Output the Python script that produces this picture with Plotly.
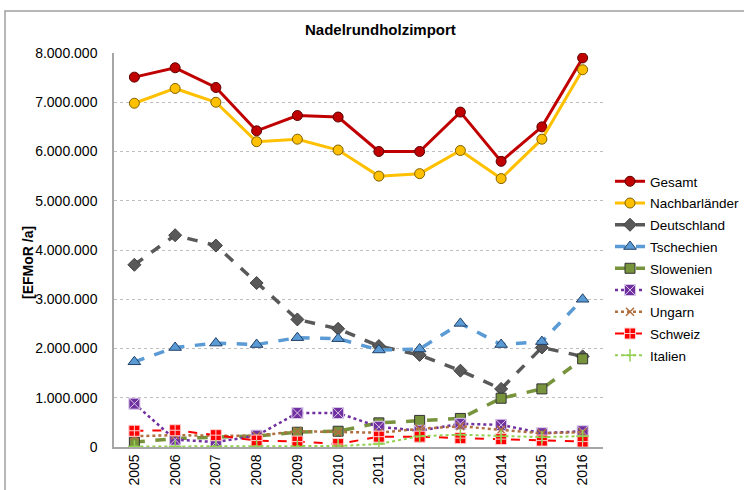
import plotly.graph_objects as go

years = ["2005", "2006", "2007", "2008", "2009", "2010", "2011", "2012", "2013", "2014", "2015", "2016"]

gesamt = [7510000, 7700000, 7300000, 6420000, 6730000, 6700000, 6000000, 6000000, 6800000, 5800000, 6500000, 7900000]
nachbar = [6980000, 7280000, 7000000, 6200000, 6250000, 6030000, 5500000, 5550000, 6020000, 5450000, 6250000, 7660000]
deutschland = [3700000, 4300000, 4090000, 3330000, 2590000, 2400000, 2050000, 1870000, 1550000, 1180000, 2020000, 1840000]
tschechien = [1730000, 2020000, 2110000, 2080000, 2220000, 2200000, 1970000, 1990000, 2510000, 2080000, 2140000, 3000000]
slowenien = [100000, 170000, 200000, 220000, 300000, 320000, 490000, 540000, 580000, 990000, 1180000, 1790000]
slowakei = [880000, 150000, 100000, 230000, 690000, 690000, 410000, 330000, 470000, 450000, 280000, 320000]
ungarn = [220000, 240000, 230000, 230000, 320000, 300000, 290000, 370000, 420000, 350000, 280000, 300000]
schweiz = [330000, 340000, 240000, 130000, 110000, 60000, 210000, 210000, 180000, 160000, 130000, 110000]
italien = [10000, 10000, 10000, 10000, 10000, 20000, 60000, 220000, 250000, 220000, 200000, 220000]

series = [
    ("Gesamt", gesamt, "#C00000", "solid", 3, "circle", "#C00000", "#5a0000", 10),
    ("Nachbarländer", nachbar, "#FFC000", "solid", 3, "circle", "#FFC000", "#7f6000", 10),
    ("Deutschland", deutschland, "#595959", "dash", 3.5, "diamond", "#595959", "#404040", 10),
    ("Tschechien", tschechien, "#5B9BD5", "dash", 3.5, "triangle-up", "#5B9BD5", "#1f3f66", 11),
    ("Slowenien", slowenien, "#77933C", "dash", 3.5, "square", "#77933C", "#333333", 10),
    ("Slowakei", slowakei, "#7030A0", "dot", 2.5, "square-x", "#7030A0", "#d9c8e8", 11),
    ("Ungarn", ungarn, "#B07040", "dot", 2.5, "x-thin", "#B07040", "#B07040", 8),
    ("Schweiz", schweiz, "#FF0000", "dash", 2, "square-cross", "#FF0000", "#ffd0d0", 11),
    ("Italien", italien, "#92D050", "dot", 2, "cross-thin", "#92D050", "#92D050", 9),
]

fig = go.Figure()
for name, vals, col, dash, w, sym, mfill, mline, msize in series:
    thin = sym.endswith("-thin")
    fig.add_trace(go.Scatter(
        x=years, y=vals, name=name, mode="lines+markers", legendgroup=name,
        line=dict(color=col, width=w, dash=dash),
        marker=dict(symbol=sym, size=msize, color=mfill,
                    line=dict(color=mline, width=1.5 if thin else 1)),
    ))

L, R, T, B = 114, 141, 53, 43
W, H = 744, 490
pw, ph = W - L - R, H - T - B

fig.update_layout(
    width=W, height=H,
    margin=dict(l=L, r=R, t=T, b=B, autoexpand=False),
    paper_bgcolor="white", plot_bgcolor="white",
    separators=",.",
    font=dict(family="Liberation Sans, Arial, sans-serif", size=14, color="#000000"),
    showlegend=True,
    legend=dict(x=(610 - L) / pw, y=(H - B - 166) / ph, xanchor="left", yanchor="top",
                font=dict(size=13.5), bgcolor="rgba(0,0,0,0)", tracegroupgap=1.2),
    xaxis=dict(type="category", range=[-0.5, 11.5], tickangle=-90,
               showgrid=False, showline=True, linecolor="#A6A6A6", linewidth=1.5,
               ticks="", tickfont=dict(size=14)),
    yaxis=dict(range=[0, 8000000], dtick=1000000, tickformat=",d",
               showgrid=True, gridcolor="#BFBFBF", griddash="dot", gridwidth=1,
               showline=True, linecolor="#A6A6A6", linewidth=1.5,
               zeroline=False, ticks="", tickfont=dict(size=14),
               ticklabelstandoff=12),
    annotations=[
        dict(text="<b>Nadelrundholzimport</b>", xref="paper", yref="paper",
             x=(380 - L) / pw, y=(H - B - 29) / ph, xanchor="center", yanchor="middle",
             showarrow=False, font=dict(size=15)),
        dict(text="<b>[EFMoR /a]</b>", xref="paper", yref="paper",
             x=(28 - L) / pw, y=(H - B - 263) / ph, xanchor="center", yanchor="middle",
             textangle=-90, showarrow=False, font=dict(size=14)),
    ],
    shapes=[
        dict(type="rect", xref="paper", yref="paper",
             x0=(5 - L) / pw, x1=1.5, y0=-0.3, y1=(H - B - 11) / ph,
             line=dict(color="#A0A0A0", width=1.5), layer="below"),
    ],
)

fig.write_html("out.html", config={"displayModeBar": False},
               post_script="document.body.style.margin='0';")
